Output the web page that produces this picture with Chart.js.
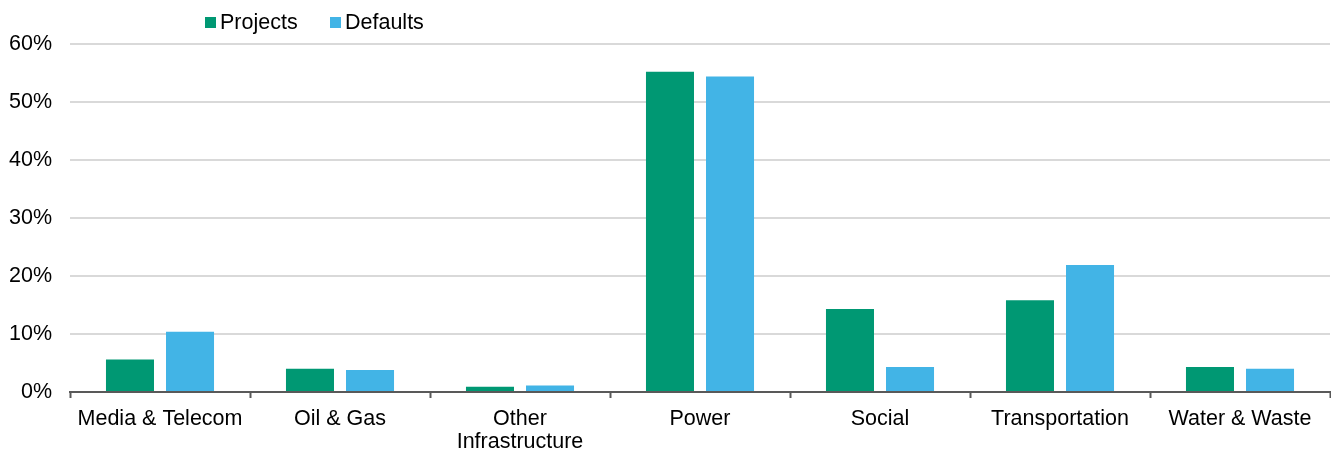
<!DOCTYPE html>
<html>
<head>
<meta charset="utf-8">
<script src="https://cdn.jsdelivr.net/npm/chart.js@4"></script>
<style>
    html, body { margin: 0; padding: 0; background: #fff; }
    #wrap { width: 1331px; height: 450px; position: relative; }
</style>
</head>
<body>
<div id="wrap"><canvas id="sector-chart"></canvas></div>
<script>
// Chart data
const categories = ['Media & Telecom', 'Oil & Gas', ['Other', 'Infrastructure'], 'Power', 'Social', 'Transportation', 'Water & Waste'];
const projects = [5.6, 4.0, 0.9, 55.2, 14.3, 15.8, 4.3];
const defaults = [10.4, 3.8, 1.1, 54.4, 4.3, 21.9, 4.0];
const yTicks = [0, 10, 20, 30, 40, 50, 60];

const GREEN = '#009873';
const BLUE = '#42B4E6';
const FONT = '"Liberation Sans", Arial, sans-serif';
const FONT_SIZE = 21.5;

// Legend drawn by hand so it can sit left of centre like the original
const topLegend = {
    id: 'topLegend',
    afterDraw(chart) {
        const ctx = chart.ctx;
        const items = [
            { x: 205, label: chart.data.datasets[0].label, color: chart.data.datasets[0].backgroundColor },
            { x: 330, label: chart.data.datasets[1].label, color: chart.data.datasets[1].backgroundColor }
        ];
        ctx.save();
        ctx.font = FONT_SIZE + 'px ' + FONT;
        ctx.textBaseline = 'middle';
        items.forEach(item => {
            ctx.fillStyle = item.color;
            ctx.fillRect(item.x, 17, 11, 11);
            ctx.fillStyle = '#000';
            ctx.fillText(item.label, item.x + 15, 23);
        });
        ctx.restore();
    }
};

const ctx = document.getElementById('sector-chart').getContext('2d');

new Chart(ctx, {
    type: 'bar',
    data: {
        labels: categories,
        datasets: [{
            label: 'Projects',
            data: projects,
            backgroundColor: GREEN,
            categoryPercentage: 0.667,
            barPercentage: 0.8
        }, {
            label: 'Defaults',
            data: defaults,
            backgroundColor: BLUE,
            categoryPercentage: 0.667,
            barPercentage: 0.8
        }]
    },
    options: {
        responsive: true,
        maintainAspectRatio: false,
        animation: false,
        layout: {
            padding: { top: 44, left: 0, right: 1, bottom: 0 }
        },
        scales: {
            x: {
                offset: true,
                afterFit: axis => { axis.height = 58; },
                grid: {
                    drawOnChartArea: false,
                    drawTicks: true,
                    tickLength: 6,
                    tickWidth: 2,
                    tickColor: '#595959',
                    offset: true
                },
                border: { display: true, color: '#595959', width: 2 },
                ticks: {
                    color: '#000',
                    padding: 10,
                    maxRotation: 0,
                    autoSkip: false,
                    font: { family: FONT, size: FONT_SIZE, lineHeight: '23px' }
                }
            },
            y: {
                min: 0,
                max: 60,
                afterFit: axis => { axis.width = 70; },
                afterBuildTicks: axis => {
                    axis.ticks = yTicks.map(v => ({ value: v }));
                },
                grid: {
                    color: '#D9D9D9',
                    lineWidth: 2,
                    drawTicks: false
                },
                border: { display: false },
                ticks: {
                    color: '#000',
                    padding: 18,
                    callback: v => v + '%',
                    font: { family: FONT, size: FONT_SIZE }
                }
            }
        },
        plugins: {
            legend: { display: false },
            tooltip: { enabled: false }
        }
    },
    plugins: [topLegend]
});
</script>
</body>
</html>
